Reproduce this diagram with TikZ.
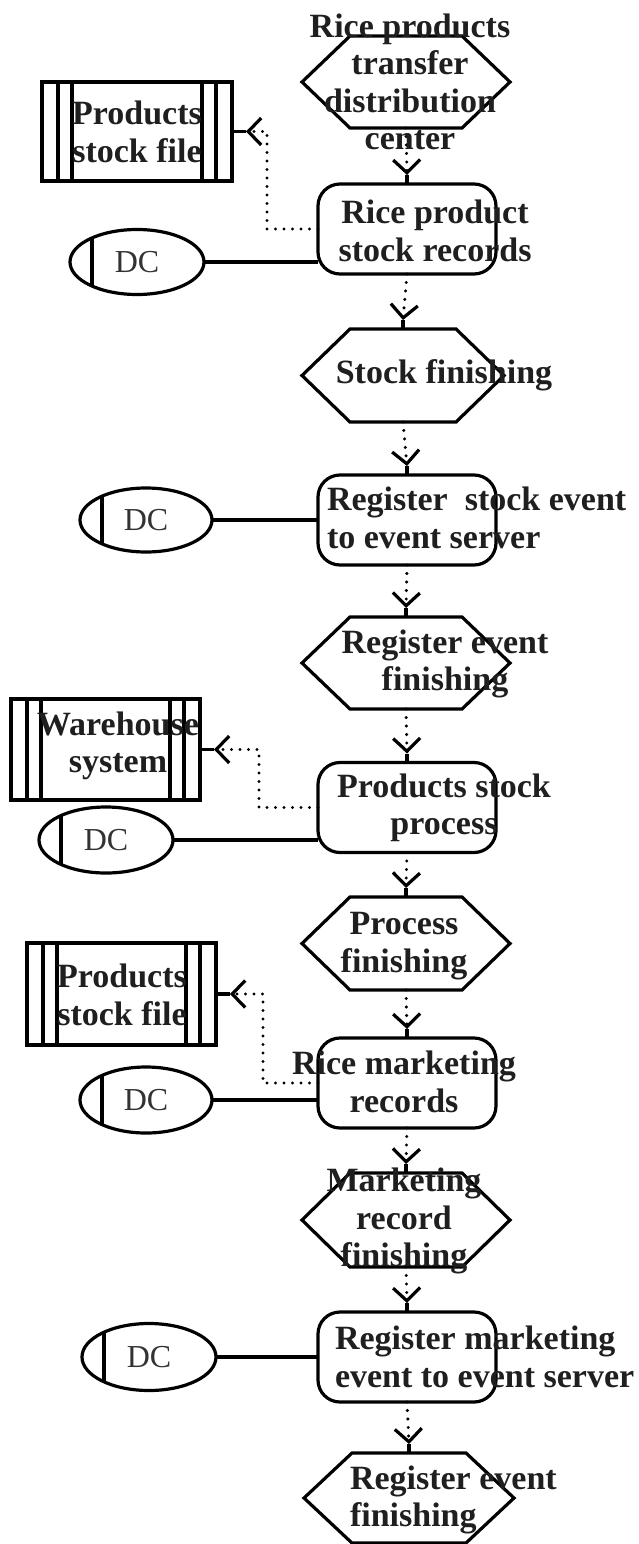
\documentclass[tikz,border=0pt]{standalone}
\usepackage{fontspec}
\setmainfont{Liberation Serif}
\usetikzlibrary{arrows.meta,shapes.geometric,calc}
\newcommand\hexdraw[1]{\draw[shapeline] (#1.west) -- ([xshift=48pt]#1.north west) -- ([xshift=-48pt]#1.north east) -- (#1.east) -- ([xshift=-48pt]#1.south east) -- ([xshift=48pt]#1.south west) -- cycle;}
\begin{document}
\begin{tikzpicture}[x=1pt,y=-1pt,
  every node/.style={inner sep=0pt, outer sep=0pt},
  shapeline/.style={line width=3.2pt, draw=black},
  lbl/.style={font=\fontsize{34}{37.5}\selectfont\bfseries, align=center, text=black!88},
  proc/.style={shapeline, rounded corners=22pt, minimum width=178pt, minimum height=90pt},
  hexb/.style={minimum width=208pt, minimum height=92pt},
  store/.style={shapeline, minimum width=190pt, minimum height=100pt,
    path picture={
      \draw[shapeline] ([xshift=16pt]path picture bounding box.north west) -- ([xshift=16pt]path picture bounding box.south west);
      \draw[shapeline] ([xshift=30pt]path picture bounding box.north west) -- ([xshift=30pt]path picture bounding box.south west);
      \draw[shapeline] ([xshift=-16pt]path picture bounding box.north east) -- ([xshift=-16pt]path picture bounding box.south east);
      \draw[shapeline] ([xshift=-30pt]path picture bounding box.north east) -- ([xshift=-30pt]path picture bounding box.south east);}},
  dc/.style={ellipse, shapeline, minimum width=134pt, minimum height=66pt,
    font=\fontsize{32}{36}\selectfont, text=black!80,
    path picture={\draw[shapeline] ([xshift=22pt]path picture bounding box.north west) -- ([xshift=22pt]path picture bounding box.south west);}},
  flow/.style={line width=3.4pt, line cap=round, dash pattern=on 0pt off 8.5pt,
    -{Straight Barb[length=13pt,width=27pt,line width=3.2pt]}},
  stemline/.style={line width=3.2pt},
  solidcon/.style={line width=3.2pt}]

\useasboundingbox (0,0) rectangle (639,1544);

% hexagons (events)
\node[hexb] (h1) at (406,82) {};
\node[hexb, minimum width=202pt, minimum height=93pt] (h2) at (403,375.5) {};
\node[hexb] (h3) at (406,663) {};
\node[hexb, minimum height=93pt] (h4) at (406,943.5) {};
\node[hexb, minimum height=94pt] (h5) at (406,1220) {};
\node[hexb, minimum width=210pt, minimum height=90pt] (h6) at (409,1498) {};
\hexdraw{h1}\hexdraw{h2}\hexdraw{h3}\hexdraw{h4}\hexdraw{h5}\hexdraw{h6}

% processes
\node[proc] (p1) at (407,229) {};
\node[proc] (p2) at (407,520) {};
\node[proc] (p3) at (407,807.5) {};
\node[proc] (p4) at (407,1083) {};
\node[proc] (p5) at (407,1357) {};

% stores
\node[store, minimum height=99pt] (s1) at (137,131.5) {};
\node[store, minimum width=189pt, minimum height=101pt] (s2) at (105.5,749.5) {};
\node[store, minimum width=189pt, minimum height=102pt] (s3) at (121.5,994) {};

% DC ellipses
\node[dc, minimum height=65pt] (dc1) at (137,262) {DC};
\node[dc, minimum width=132pt, minimum height=64pt] (dc2) at (146,520) {DC};
\node[dc] (dc3) at (106,840) {DC};
\node[dc, minimum width=132pt] (dc4) at (146,1100) {DC};
\node[dc, minimum height=67pt] (dc5) at (149,1357) {DC};

% solid connectors DC -- process
\draw[solidcon] (dc1.east) -- (dc1.east -| p1.west);
\draw[solidcon] (dc2.east) -- (dc2.east -| p2.west);
\draw[solidcon] (dc3.east) -- (dc3.east -| p3.west);
\draw[solidcon] (dc4.east) -- (dc4.east -| p4.west);
\draw[solidcon] (dc5.east) -- (dc5.east -| p5.west);

% main vertical flow
\foreach \a/\b in {h1/p1,p1/h2,h2/p2,p2/h3,h3/p3,p3/h4,h4/p4,p4/h5,h5/p5,p5/h6}{
  \draw[flow] (\a.south) -- ([yshift=9pt]\b.north);
  \draw[stemline] ([yshift=9pt]\b.north) -- (\b.north);
}

% flows to stores
\draw[flow] (p1.west) -- ++(-51,0) |- ([xshift=14pt]s1.east);
\draw[stemline] ([xshift=14pt]s1.east) -- (s1.east);
\draw[flow] (p3.west) -- ++(-59,0) |- ([xshift=14pt]s2.east);
\draw[stemline] ([xshift=14pt]s2.east) -- (s2.east);
\draw[flow] (p4.west) -- ++(-55,0) |- ([xshift=14pt]s3.east);
\draw[stemline] ([xshift=14pt]s3.east) -- (s3.east);

% texts
\node[lbl] (t1) at (410,82) {Rice products\\transfer\\distribution\\center};
\node[lbl] (t2) at (435,231) {Rice product\\stock records};
\node[lbl] (t3) at (444,375) {Stock finishing};
\node[lbl, align=left, anchor=west] (t4) at (327,518) {Register\ \ stock event\\to event server};
\node[lbl] (t5) at (445,664) {Register event\\finishing};
\node[lbl] (t6) at (444,808) {Products stock\\process};
\node[lbl] (t7) at (404,946) {Process\\finishing};
\node[lbl] (t8) at (404,1082) {Rice marketing\\records};
\node[lbl] (t9) at (404,1221) {Marketing\\record\\finishing};
\node[lbl, align=left, anchor=west] (t10) at (335,1357) {Register marketing\\event to event server};
\node[lbl, align=left, anchor=west] (t11) at (350,1500) {Register event\\finishing};
\node[lbl] (t12) at (137,132) {Products\\stock file};
\node[lbl] (t13) at (118,746) {Warehouse\\system};
\node[lbl] (t14) at (122,995) {Products\\stock file};
\end{tikzpicture}
\end{document}
